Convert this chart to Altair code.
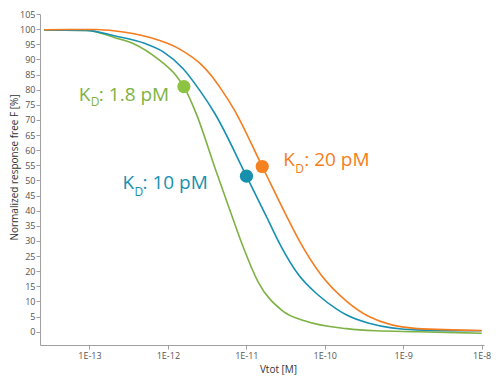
import altair as alt
import pandas as pd

# ---- data (log10 of Vtot [M], response %) ----
green_logx = [-13.577, -13.037, -12.668, -12.423, -12.136, -11.891, -11.796, -11.645,
              -11.378, -11.173, -11.047, -10.850, -10.543, -10.248, -9.720, -9.351, -8.823, -8.0]
green_y = [99.7, 99.6, 97.1, 95.0, 90.3, 84.5, 81.0, 72.5,
           52.5, 37.5, 28.5, 16.5, 7.0, 3.5, 1.0, 0.3, 0.0, -0.5]

blue_logx = [-13.577, -13.037, -12.668, -12.300, -12.054, -11.808, -11.587, -11.403,
             -10.998, -10.743, -10.559, -10.334, -10.088, -9.843, -9.720, -9.437, -8.823, -8.0]
blue_y = [99.7, 99.6, 97.7, 95.3, 92.4, 87.0, 79.5, 72.2,
          51.4, 38.0, 28.3, 18.8, 12.2, 7.4, 5.5, 2.8, 0.6, 0.3]

orange_logx = [-13.577, -12.914, -12.668, -12.238, -11.849, -11.563, -11.440, -11.317,
               -11.157, -10.797, -10.498, -10.334, -10.048, -9.720, -9.437, -8.823, -8.0]
orange_y = [99.8, 99.9, 99.4, 97.3, 93.4, 88.0, 84.4, 80.0,
            73.5, 54.6, 38.8, 30.5, 18.8, 10.0, 5.0, 1.0, 0.4]

series_names = ["1.8 pM", "10 pM", "20 pM"]
dot_logx = [-11.796, -10.998, -10.797]
dot_y = [81.0, 51.4, 54.6]

x_tick_values = [1e-13, 1e-12, 1e-11, 1e-10, 1e-9, 1e-8]
y_tick_values = [0, 5, 10, 15, 20, 25, 30, 35, 40, 45, 50, 55, 60, 65, 70, 75, 80, 85, 90, 95, 100, 105]

# ---- styles ----
line_colors = ["#7eb244", "#1790b1", "#f47d20"]
dot_colors = ["#8cc441", "#1690ad", "#f58220"]
# label piece offsets relative to the dot: (K dx, K dy, D dx, D dy, rest dx)
label_offsets = [(-105, 14, -93, 19, -85), (-124, 13, -112, 20, -104), (21, 0, 33, 7, 42)]

curves = pd.concat([
    pd.DataFrame({"series": series_names[0], "conc": [10 ** v for v in green_logx], "resp": green_y}),
    pd.DataFrame({"series": series_names[1], "conc": [10 ** v for v in blue_logx], "resp": blue_y}),
    pd.DataFrame({"series": series_names[2], "conc": [10 ** v for v in orange_logx], "resp": orange_y}),
])
dots = pd.DataFrame({"series": series_names, "conc": [10 ** v for v in dot_logx], "resp": dot_y})

x_scale = alt.Scale(type="log", domain=[10 ** -13.63, 10 ** -7.97], nice=False)
y_scale = alt.Scale(domain=[-4.4, 105], nice=False, zero=False)

x_enc = alt.X("conc:Q", scale=x_scale,
              axis=alt.Axis(values=x_tick_values, title="Vtot [M]",
                            labelExpr="'1E-' + round(-log(datum.value)/LN10)",
                            titleX=238))
y_enc = alt.Y("resp:Q", scale=y_scale,
              axis=alt.Axis(values=y_tick_values, tickCount=22, title="Normalized response free F [%]",
                            labelOverlap=False, labelPadding=1,
                            titleX=-21, titleY=153))

lines = alt.Chart(curves).mark_line(interpolate="monotone", strokeWidth=1.6).encode(
    color=alt.Color("series:N", scale=alt.Scale(domain=series_names, range=line_colors), legend=None),
)

layers = [lines]
for i, name in enumerate(series_names):
    sub = dots[dots["series"] == name]
    base = alt.Chart(sub)
    layers.append(base.mark_circle(size=175, opacity=1, color=dot_colors[i]))
    kdx, kdy, ddx, ddy, rdx = label_offsets[i]
    layers.append(base.mark_text(text="K", align="left", baseline="alphabetic", dx=kdx, dy=kdy,
                                 font="Open Sans", fontSize=19, color=line_colors[i]))
    layers.append(base.mark_text(text="D", align="left", baseline="alphabetic", dx=ddx, dy=ddy,
                                 font="Open Sans", fontSize=12, color=line_colors[i]))
    layers.append(base.mark_text(text=": " + name, align="left", baseline="alphabetic", dx=rdx, dy=kdy,
                                 font="Open Sans", fontSize=19, color=line_colors[i]))

chart = alt.layer(*layers).encode(x=x_enc, y=y_enc).properties(
    width=444, height=331,
    autosize=alt.AutoSizeParams(type="none"),
    padding={"left": 32, "top": 6, "right": 8, "bottom": 30},
).configure_view(stroke=None).configure_axis(
    grid=False,
    domainColor="#a0a0a0",
    tickColor="#a0a0a0",
    tickSize=4,
    labelColor="#555555",
    labelFont="Open Sans",
    labelFontSize=9,
    titleFont="Open Sans",
    titleFontSize=10,
    titleFontWeight="normal",
    titleColor="#333333",
)

chart.save("out.html", embed_options={"renderer": "svg", "actions": False})
